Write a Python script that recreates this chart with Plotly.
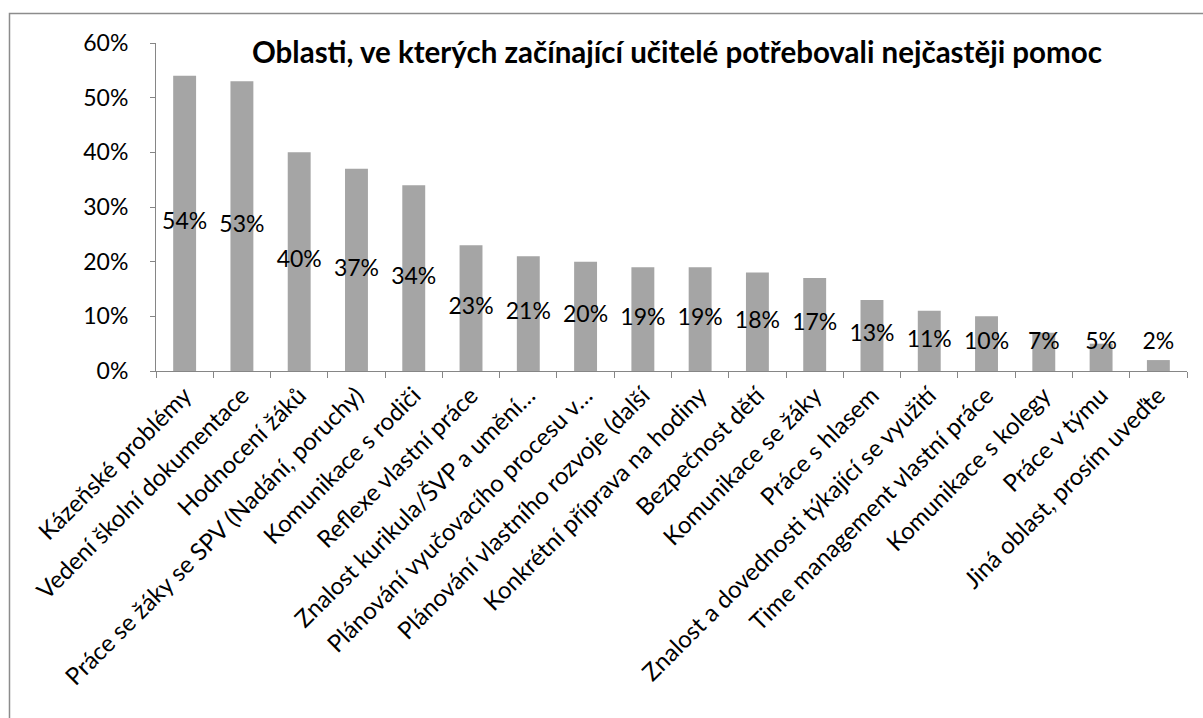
import plotly.graph_objects as go

categories = [
    "Kázeňské problémy",
    "Vedení školní dokumentace",
    "Hodnocení žáků",
    "Práce se žáky se SPV (Nadání, poruchy)",
    "Komunikace s rodiči",
    "Reflexe vlastní práce",
    "Znalost kurikula/ŠVP a umění…",
    "Plánování vyučovacího procesu v…",
    "Plánování vlastního rozvoje (další",
    "Konkrétní příprava na hodiny",
    "Bezpečnost dětí",
    "Komunikace se žáky",
    "Práce s hlasem",
    "Znalost a dovednosti týkající se využití",
    "Time management vlastní práce",
    "Komunikace s kolegy",
    "Práce v týmu",
    "Jiná oblast, prosím uveďte",
]
values = [0.54, 0.53, 0.40, 0.37, 0.34, 0.23, 0.21, 0.20, 0.19, 0.19,
          0.18, 0.17, 0.13, 0.11, 0.10, 0.07, 0.05, 0.02]
title_text = "Oblasti, ve kterých začínající učitelé potřebovali nejčastěji pomoc"

FONT = "Lato"
label_y = [max(v / 2, 0.05) for v in values]
label_text = [f"{round(v*100)}%" for v in values]

fig = go.Figure()
fig.add_trace(go.Bar(
    x=categories, y=values,
    marker=dict(color="#a5a5a5", line=dict(width=0)),
    hoverinfo="x+y",
))
fig.add_trace(go.Scatter(
    x=categories, y=label_y, mode="text", text=label_text,
    textposition="middle center",
    textfont=dict(family=FONT, size=23, color="#000000"),
    hoverinfo="skip",
))

fig.update_layout(
    width=1203, height=718,
    margin=dict(l=156, r=16, t=43, b=347, autoexpand=False),
    paper_bgcolor="white", plot_bgcolor="white",
    showlegend=False,
    bargap=0.6,
    font=dict(family=FONT, size=23, color="#000000"),
    annotations=[dict(
        text="<b>" + title_text + "</b>",
        xref="paper", yref="paper", x=0.5053, y=0.9726,
        xanchor="center", yanchor="middle", showarrow=False,
        font=dict(family=FONT, size=29.5, color="#000000"),
    )],
    shapes=[dict(
        type="rect", xref="paper", yref="paper",
        x0=-0.1421, x1=1.05, y0=-1.2, y1=1.0899,
        line=dict(color="#8c8c8c", width=1.5),
    )],
)
fig.update_xaxes(
    type="category",
    range=[-0.5, len(categories) - 0.5],
    tickangle=-45,
    automargin=False,
    tickfont=dict(family=FONT, size=24),
    showline=True, linecolor="#868686", linewidth=1,
    ticks="outside", ticklen=6, tickcolor="#868686",
    tickson="boundaries",
    showgrid=False, zeroline=False,
)
fig.update_yaxes(
    range=[0, 0.6], dtick=0.1, tickformat=".0%",
    automargin=False,
    tickfont=dict(family=FONT, size=23),
    showline=True, linecolor="#868686", linewidth=1,
    ticks="outside", ticklen=5, tickcolor="#868686",
    ticklabelstandoff=17,
    showgrid=False, zeroline=False,
)

fig.write_html("out.html", config={"displayModeBar": False},
               post_script="document.body.style.margin='0px';")
